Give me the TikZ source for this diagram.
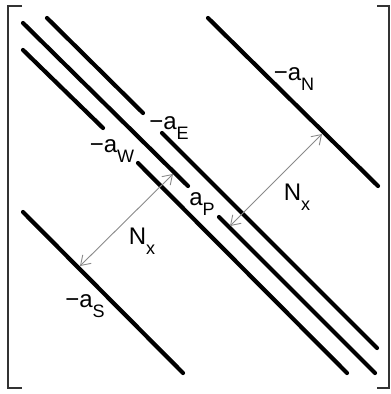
\documentclass[tikz,border=0pt]{standalone}
\usepackage{fontspec}
\setmainfont{Liberation Sans}
\usetikzlibrary{arrows.meta}
\definecolor{stgrey}{HTML}{8A8A8A}
\definecolor{brkgrey}{HTML}{333333}
\newcommand{\lowsub}[1]{\raisebox{-10pt}{\fontsize{18}{18}\selectfont #1}}

\begin{document}
\begin{tikzpicture}[
        x=1pt, y=-1pt,
        font=\fontsize{24}{26}\selectfont,
        band/.style={line width=4.2pt, line cap=round},
        brk/.style={line width=1.6pt, draw=brkgrey},
        span/.style={{Straight Barb[length=9pt,width=12pt]}-{Straight Barb[length=9pt,width=12pt]},
                     line width=0.9pt, stgrey},
        lbl/.style={inner sep=0pt}
    ]
        \useasboundingbox (0,0) rectangle (391,394);

        % brackets
        \draw[brk] (22,6) -- (8,6) -- (8,388) -- (22,388);
        \draw[brk] (377,6) -- (389,6) -- (389,388) -- (377,388);

        % diagonals
        \draw[band] (23,23) -- (188,186);
        \draw[band] (219,217) -- (375,373);
        \draw[band] (23,50) -- (103,128);
        \draw[band] (138,163) -- (347,373);
        \draw[band] (47,18) -- (143,113);
        \draw[band] (162,133) -- (377,348);
        \draw[band] (208,18) -- (378,186);
        \draw[band] (23,212) -- (183,373);

        % distance markers
        \coordinate (pup) at (230,226);
        \coordinate (nup) at (322,134);
        \coordinate (plow) at (173,174);
        \coordinate (slow) at (80,266);
        \draw[span] (pup) -- (nup);
        \draw[span] (plow) -- (slow);

        % coefficients
        \node[lbl] (aN) at (294,79) {−a\lowsub{N}};
        \node[lbl] (aE) at (169,128) {−a\lowsub{E}};
        \node[lbl] (aW) at (112,151) {−a\lowsub{W}};
        \node[lbl] (aP) at (202,204) {a\lowsub{P}};
        \node[lbl] (aS) at (85,306) {−a\lowsub{S}};
        \node[lbl] (nxup) at (297,197) {N\lowsub{x}};
        \node[lbl] (nxlow) at (142,241) {N\lowsub{x}};
    \end{tikzpicture}
\end{document}
